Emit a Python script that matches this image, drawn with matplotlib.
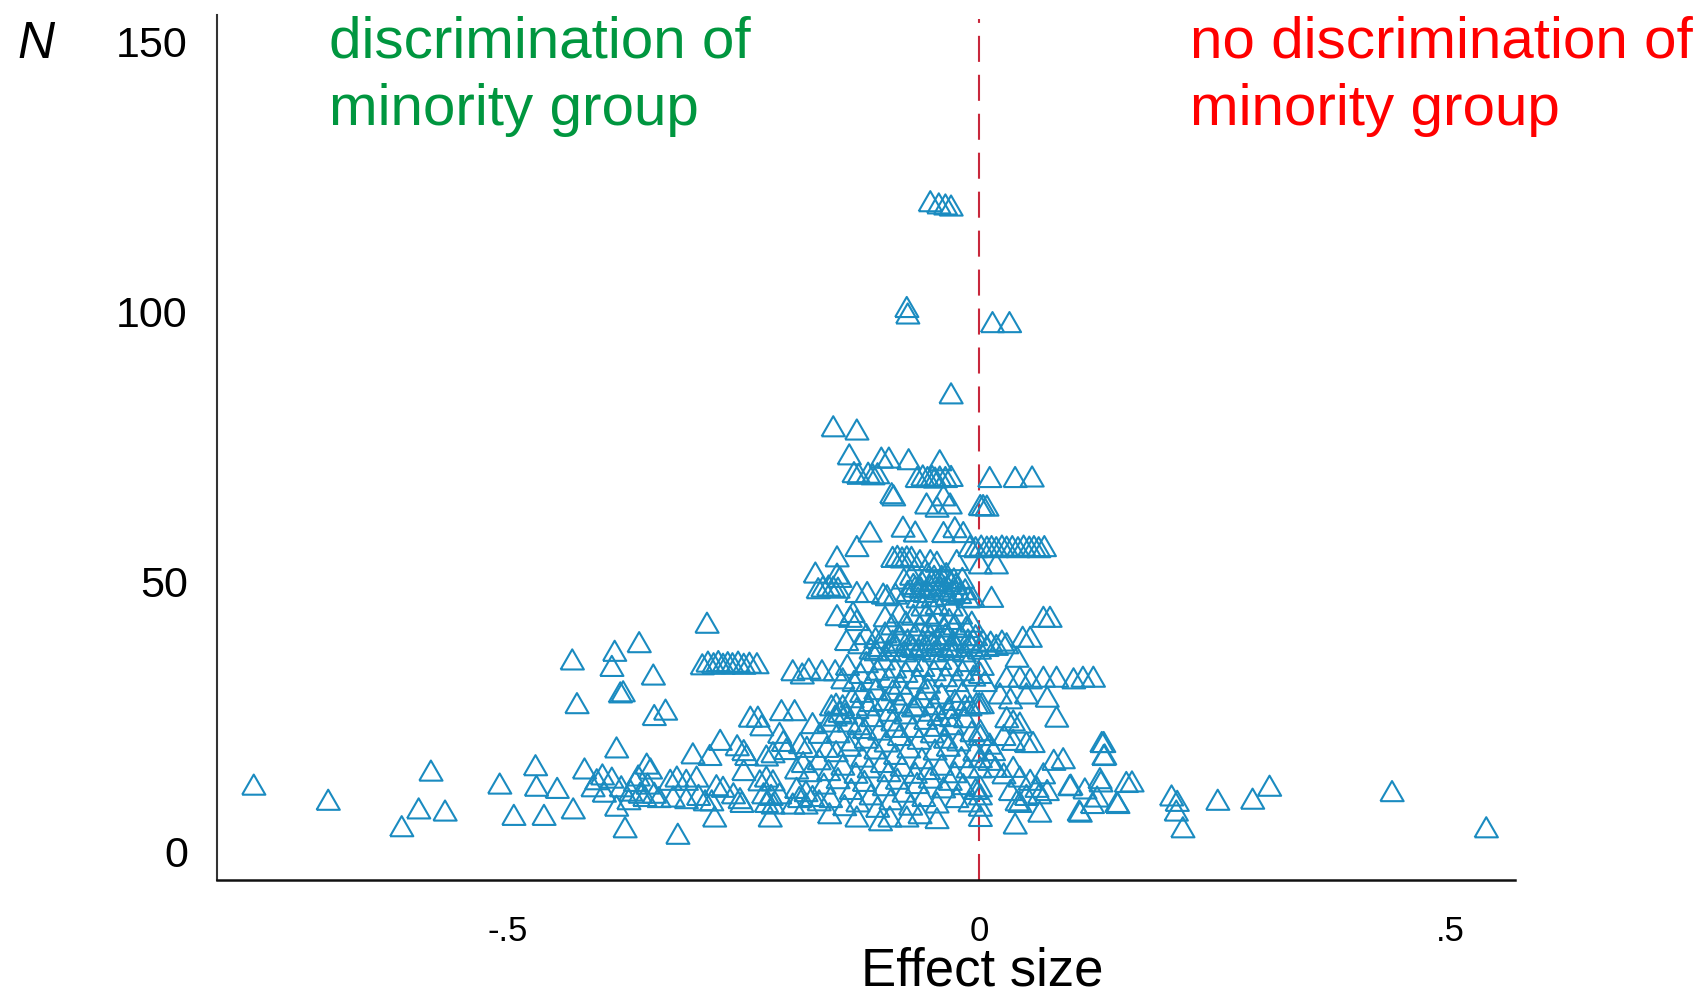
import matplotlib
matplotlib.use("Agg")
import matplotlib.pyplot as plt
import numpy as np

plt.rcParams['font.family'] = ['Liberation Sans', 'DejaVu Sans']

# --- data (effect size, N) ---

# sparse studies with large N
top_es = [-0.052, -0.043, -0.036, -0.030, -0.077, -0.076, 0.014, 0.032, -0.030,
          -0.155, -0.130, -0.138, -0.104, -0.096, -0.075, -0.042,
          -0.133, -0.128, -0.118, -0.113, -0.108,
          -0.066, -0.060, -0.055, -0.050, -0.047, -0.042, -0.036, -0.030,
          0.011, 0.038, 0.056, -0.093, -0.091,
          -0.056, -0.045, -0.038, -0.031, 0.001, 0.004, 0.008,
          -0.116, -0.081, -0.068, -0.038, -0.026, -0.017, -0.130]
top_n = [120.4, 120.0, 119.8, 119.6, 100.8, 99.6, 98.0, 98.0, 84.8,
         78.7, 78.1, 73.5, 72.9, 72.9, 72.6, 72.4,
         70.2, 69.9, 70.1, 69.8, 70.0,
         69.3, 69.6, 69.3, 69.5, 69.2, 69.4, 69.3, 69.5,
         69.3, 69.3, 69.4, 66.3, 65.9,
         64.4, 63.8, 65.9, 64.4, 64.1, 64.1, 64.0,
         59.2, 60.1, 59.2, 59.1, 60.0, 59.1, 56.5]

# band around N = 45 - 57
upper_es = [-0.010, -0.004, 0.002, 0.008, 0.013, 0.018, 0.024, 0.029, 0.035, 0.041,
            0.047, 0.053, 0.058, 0.063, 0.069,
            -0.151, -0.092, -0.087, -0.082, -0.077, -0.072, -0.063, -0.052,
            -0.045, -0.024, 0.001, 0.018, -0.174, -0.151, -0.148,
            -0.166, -0.160, -0.155, -0.150, -0.171, -0.130, -0.119,
            -0.102, -0.098, -0.089, -0.007, 0.013,
            -0.080, -0.076, -0.072, -0.068, -0.065, -0.061, -0.058, -0.055, -0.052,
            -0.049, -0.046, -0.043, -0.040, -0.037, -0.034, -0.031, -0.028, -0.025,
            -0.021, -0.018, -0.015, -0.012, -0.060, -0.045, -0.030,
            -0.070, -0.062, -0.048, -0.040, -0.035, -0.027]
upper_n = [56.5, 56.3, 56.6, 56.4, 56.5, 56.3, 56.6, 56.4, 56.5, 56.3,
           56.6, 56.4, 56.5, 56.3, 56.5,
           54.6, 54.5, 54.7, 54.4, 54.6, 54.5, 53.9, 53.9,
           53.6, 53.9, 53.3, 53.3, 51.6, 51.4, 50.8,
           49.0, 49.2, 49.0, 48.8, 48.7, 48.0, 48.0,
           47.7, 47.4, 47.7, 47.1, 47.1,
           50.5, 48.2, 51.2, 49.0, 47.0, 50.0, 48.0, 51.5, 49.2,
           47.2, 50.2, 48.5, 51.0, 49.0, 47.5, 50.0, 48.2, 49.5,
           47.8, 50.6, 48.5, 47.0, 45.5, 45.8, 45.5,
           49.5, 48.8, 51.0, 49.6, 51.5, 50.5]

# band around N = 36 - 45
mid_es = [-0.151, -0.137, -0.134, -0.130, -0.100, -0.092, -0.085, -0.078, -0.070,
          -0.063, -0.056, -0.050, -0.044, -0.038, -0.032, -0.026, -0.020, -0.014,
          -0.008, 0.068, 0.075,
          -0.141, -0.127, -0.120, -0.115, -0.110, -0.105, -0.100, -0.096, -0.092,
          -0.088, -0.084, -0.080, -0.076, -0.072, -0.068, -0.064, -0.060, -0.056,
          -0.052, -0.048, -0.044, -0.040, -0.036, -0.032, -0.028, -0.024, -0.020,
          -0.016, -0.012, -0.008, -0.004, 0.000, 0.004, 0.008, 0.012, 0.018, 0.024,
          0.029, 0.046, 0.054, 0.040,
          -0.110, -0.090, -0.070, -0.050, -0.030, -0.010]
mid_n = [43.7, 43.4, 44.3, 42.8, 43.5, 42.0, 44.2, 42.5, 43.8,
         41.8, 44.0, 42.4, 43.6, 41.6, 43.0, 42.0, 44.0, 41.5,
         42.5, 43.4, 43.4,
         39.1, 38.5, 40.2, 37.5, 39.5, 38.0, 40.5, 37.2, 39.0,
         38.0, 40.0, 37.0, 39.2, 38.2, 40.3, 37.4, 39.0, 38.0,
         40.0, 37.0, 39.3, 38.2, 40.2, 37.3, 39.0, 38.0, 40.0,
         37.0, 39.2, 38.0, 40.0, 37.5, 39.0, 38.0, 38.8, 38.2, 39.0,
         38.5, 39.7, 39.7, 36.0,
         37.2, 38.6, 37.8, 38.6, 37.8, 38.6]

# band around N = 20 - 36
core_es = [-0.198, -0.188, -0.181, -0.167, -0.153,
           -0.145, -0.140, -0.133, -0.126, -0.120, -0.114, -0.108, -0.102, -0.096,
           -0.090, -0.084, -0.078, -0.072, -0.066, -0.060, -0.054, -0.048, -0.042,
           -0.036, -0.030, -0.024, -0.018, -0.012, -0.006, 0.001, 0.003, 0.006,
           0.029, 0.043, 0.054, 0.068, 0.082, 0.100, 0.110, 0.121,
           -0.210, -0.196, -0.157, -0.152, -0.148, -0.153,
           -0.135, -0.125, -0.118, -0.110, -0.100, -0.092, -0.085, -0.078, -0.070,
           -0.062, -0.055, -0.048, -0.040, -0.033, -0.026, -0.018, -0.010,
           -0.003, 0.000, 0.003, 0.022, 0.033, 0.050, 0.072, 0.082,
           -0.243, -0.235, -0.231, -0.275, -0.257, -0.212, -0.208, -0.177, -0.169, -0.190,
           -0.160, -0.150, -0.142, -0.135, -0.128, -0.120, -0.113, -0.106, -0.099,
           -0.092, -0.085, -0.078, -0.071, -0.064, -0.057, -0.050, -0.043, -0.036,
           -0.029, -0.022, -0.015, -0.008, 0.001, 0.001,
           0.029, 0.036, 0.043, 0.026, 0.036, 0.050, 0.057, 0.011,
           -0.145, -0.138, -0.130, -0.122, -0.115, -0.095, -0.088, -0.067, -0.052,
           -0.045, -0.030, -0.015]
core_n = [33.5, 32.9, 33.8, 33.5, 33.5,
          32.0, 34.5, 31.5, 33.0, 35.0, 31.8, 33.6, 35.5, 32.2,
          34.0, 31.0, 33.2, 35.2, 32.0, 34.3, 31.2, 33.5, 35.6,
          32.4, 34.4, 31.5, 33.5, 35.2, 32.5, 33.0, 34.5, 31.5,
          32.3, 32.3, 32.0, 32.3, 32.3, 32.0, 32.3, 32.3,
          26.1, 26.1, 27.0, 27.3, 25.8, 25.1,
          28.5, 29.5, 27.0, 30.0, 28.0, 29.8, 27.5, 29.0, 26.8,
          28.5, 30.0, 27.2, 29.2, 26.5, 28.0, 29.5, 27.0,
          27.4, 27.4, 27.4, 29.2, 28.3, 29.2, 28.6, 24.9,
          24.9, 24.9, 23.3, 20.6, 19.6, 21.9, 20.4, 23.7, 21.9, 20.0,
          24.0, 22.0, 25.5, 20.5, 23.5, 21.0, 25.0, 22.5, 20.3,
          24.2, 21.5, 25.5, 23.0, 20.8, 24.5, 22.0, 25.2, 21.0,
          23.5, 20.5, 24.8, 22.2, 22.4, 21.5,
          24.8, 24.2, 23.8, 21.5, 20.6, 20.2, 20.2, 19.9,
          27.0, 24.0, 26.5, 22.8, 27.8, 26.0, 23.0, 27.0, 26.0,
          23.2, 25.0, 27.0]

# band around N = 3 - 20
low_es = [-0.304, -0.286, -0.250, -0.247, -0.353, -0.349, -0.250, -0.205, -0.219,
          -0.226, -0.194, -0.187, -0.180, -0.183, -0.162,
          -0.170, -0.160, -0.152, -0.145, -0.138, -0.131, -0.124, -0.117, -0.110,
          -0.103, -0.096, -0.089, -0.082, -0.075, -0.068, -0.061, -0.054, -0.047,
          -0.040, -0.033, -0.026, -0.019, -0.012, -0.005, 0.001, 0.001,
          0.015, 0.011, 0.017, 0.026, 0.036, 0.068, 0.079, 0.089, 0.132, 0.132,
          -0.360, -0.355, -0.345, -0.340, -0.328, -0.321, -0.311, -0.300, -0.325,
          -0.311, -0.298, -0.291, -0.284, -0.279, -0.272, -0.261, -0.254, -0.252,
          -0.233, -0.226, -0.219, -0.229, -0.221, -0.212, -0.226, -0.219,
          -0.410, -0.400, -0.370, -0.362, -0.352, -0.398, -0.390, -0.380, -0.372,
          -0.385, -0.365,
          -0.194, -0.184, -0.177, -0.191, -0.170, -0.184, -0.198,
          -0.165, -0.158, -0.150, -0.143, -0.136, -0.129, -0.122, -0.115, -0.108,
          -0.101, -0.094, -0.087, -0.080, -0.073, -0.066, -0.059, -0.052, -0.045,
          -0.038, -0.031, -0.024, -0.017, -0.010, -0.004, 0.001, 0.001, 0.001,
          0.043, 0.054, 0.061, 0.033, 0.040, 0.050, 0.064, 0.072, 0.043,
          0.096, 0.112, 0.128, 0.125, 0.146, 0.156,
          -0.281, -0.222, -0.159, -0.130, -0.105, -0.095, -0.077, -0.045, -0.063,
          0.001, 0.064, 0.038, 0.107]
low_n = [18.1, 17.8, 18.7, 17.8, 16.2, 15.3, 15.0, 18.9, 18.3,
         17.7, 15.3, 16.5, 14.8, 19.3, 19.3,
         17.0, 15.0, 18.5, 16.0, 19.5, 14.5, 17.5, 15.5, 19.0,
         16.5, 14.8, 18.0, 15.8, 19.2, 14.5, 17.2, 15.2, 18.8,
         16.0, 19.5, 14.6, 17.4, 15.5, 18.6, 17.4, 15.5,
         18.7, 16.9, 15.6, 14.4, 15.6, 14.4, 16.9, 17.2, 20.2, 17.8,
         10.8, 10.2, 10.8, 10.0, 13.2, 13.8, 13.2, 13.8, 10.1,
         9.8, 10.4, 9.4, 9.4, 12.2, 11.9, 10.7, 9.8, 9.1,
         13.1, 13.8, 13.1, 10.7, 10.4, 10.7, 9.1, 8.8,
         12.0, 14.2, 11.2, 14.0, 12.5, 11.0, 13.6, 12.0, 9.6,
         8.4, 13.0,
         11.7, 11.1, 10.2, 10.0, 9.4, 8.8, 8.8,
         12.5, 10.0, 13.5, 8.5, 11.5, 9.2, 13.0, 10.5, 8.2,
         12.2, 9.6, 13.4, 11.0, 8.6, 12.6, 10.2, 13.6, 9.0,
         11.8, 13.2, 10.0, 12.4, 9.2, 11.5, 12.0, 10.5, 8.4,
         13.8, 13.2, 11.9, 11.3, 9.4, 10.4, 10.7, 11.3, 9.1,
         12.2, 11.6, 13.5, 10.1, 9.1, 12.8,
         6.4, 6.4, 7.0, 6.4, 5.7, 6.4, 6.4, 6.1, 7.0,
         6.5, 7.3, 5.1, 7.3]

# scattered studies far from zero
tail_es = [-0.770, -0.691, -0.613, -0.595, -0.582, -0.567, -0.509, -0.494, -0.471,
           -0.470, -0.462, -0.448, -0.432, -0.427, -0.431, -0.419, -0.406, -0.390,
           -0.387, -0.361, -0.381, -0.378, -0.346, -0.345, -0.333, -0.385, -0.376,
           -0.320, -0.289,
           -0.294, -0.288, -0.282, -0.277, -0.272, -0.267, -0.262, -0.256, -0.250,
           -0.244, -0.236,
           0.097, 0.106, 0.120, 0.129, 0.130, 0.133, 0.147, 0.162, 0.204, 0.210,
           0.209, 0.216, 0.253, 0.290, 0.308, 0.438, 0.538]
tail_n = [12.3, 9.5, 4.6, 7.9, 14.9, 7.5, 12.5, 6.7, 15.9,
          12.1, 6.7, 11.7, 35.5, 27.4, 7.9, 15.3, 13.3, 34.3,
          37.1, 38.7, 29.4, 29.6, 32.7, 25.2, 26.2, 19.2, 4.4,
          3.2, 42.3,
          34.6, 35.1, 34.8, 35.2, 34.7, 35.0, 34.8, 35.1, 34.7,
          34.9, 34.8,
          12.3, 7.5, 8.9, 12.9, 20.2, 17.9, 8.9, 12.9, 10.3, 9.3,
          7.5, 4.4, 9.5, 9.7, 12.1, 11.1, 4.4]

effect = np.array(top_es + upper_es + mid_es + core_es + low_es + tail_es)
n_obs = np.array(top_n + upper_n + mid_n + core_n + low_n + tail_n)

yticks = [0, 50, 100, 150]
xticks = [-0.5, 0, 0.5]
xtick_labels = ['-.5', '0', '.5']

# --- figure ---
W, H = 1706, 998
fig = plt.figure(figsize=(W / 100, H / 100), dpi=100)
ax = fig.add_axes([217 / W, 1 - 880 / H, (1515 - 217) / W, (880 - 15) / H])

tri = [(-1, -0.866), (1, -0.866), (0, 0.866), (-1, -0.866)]
ax.scatter(effect, n_obs, marker=tri, s=280, facecolors='none',
           edgecolors='#1a8bc0', linewidths=1.5, zorder=3)

ax.axvline(0, ymin=0, ymax=0.995, color='#c8283c', lw=1.5,
           dashes=(12.5, 6.2), zorder=2)

ax.set_xlim(-0.809, 0.5685)
ax.set_ylim(-5.37, 154.9)

for side in ['top', 'right']:
    ax.spines[side].set_visible(False)
ax.spines['left'].set_color('#333333')
ax.spines['left'].set_linewidth(1.5)
ax.spines['bottom'].set_color('#111111')
ax.spines['bottom'].set_linewidth(1.8)

ax.set_yticks(yticks)
ax.set_xticks(xticks)
ax.set_xticklabels(xtick_labels)
ax.tick_params(axis='y', length=0, pad=21, labelsize=31)
ax.tick_params(axis='x', length=0, pad=25, labelsize=25)

# axis titles (x title sits right at the bottom edge, as in the original)
fig.text(982 / W, 1 - 986 / H, 'Effect size', ha='center', va='baseline',
         fontsize=38)
fig.text(36 / W, 1 - 44 / H, 'N', ha='center', va='center', fontsize=37,
         style='italic')

# side annotations
fig.text(329 / W, 1 - 57 / H, 'discrimination of', color='#00963f',
         fontsize=42, va='baseline', ha='left')
fig.text(329 / W, 1 - 125 / H, 'minority group', color='#00963f',
         fontsize=42, va='baseline', ha='left')
fig.text(1190 / W, 1 - 57 / H, 'no discrimination of', color='#ff0000',
         fontsize=42, va='baseline', ha='left')
fig.text(1190 / W, 1 - 125 / H, 'minority group', color='#ff0000',
         fontsize=42, va='baseline', ha='left')

fig.savefig('out.png', dpi=100)
